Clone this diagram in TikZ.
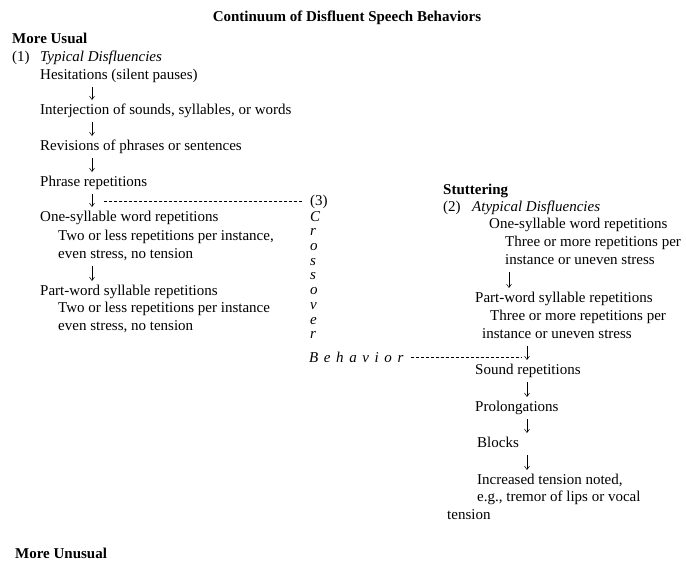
\documentclass[tikz,border=0pt]{standalone}
\usepackage{fontspec}
\setmainfont{Liberation Serif}
\usetikzlibrary{arrows.meta}

\begin{document}
\begin{tikzpicture}[x=1pt,y=-1pt,
  font=\fontsize{15}{18}\selectfont,
  txt/.style={anchor=base west, inner sep=0pt},
  hd/.style={txt, font=\fontsize{15}{18}\selectfont\bfseries},
  it/.style={txt, font=\fontsize{15}{18}\selectfont\itshape},
  dn/.style={-{Straight Barb[length=3.5pt,width=5pt]}, line width=0.5pt,
    shorten <=8pt, shorten >=14pt},
  xo/.style={dash pattern=on 3pt off 2pt, line width=0.5pt}]

\useasboundingbox (0,0) rectangle (686,563);

% columns of the arrows
\coordinate (lcol) at (92,0);
\coordinate (rcolA) at (509,0);
\coordinate (rcolB) at (527,0);

% title
\node[font=\fontsize{15}{18}\selectfont\bfseries, anchor=base, inner sep=0pt]
  (title) at (347,21) {Continuum of Disfluent Speech Behaviors};

% (1) typical disfluencies
\node[hd] (mu) at (12,43) {More Usual};
\node[txt] (n1) at (12,61) {(1)};
\node[it] (typ) at (40,61) {Typical Disfluencies};
\node[txt] (hes) at (40,79) {Hesitations (silent pauses)};
\node[txt] (intj) at (40,114) {Interjection of sounds, syllables, or words};
\node[txt] (rev) at (40,150) {Revisions of phrases or sentences};
\node[txt] (phr) at (40,186) {Phrase repetitions};
\node[txt] (osw) at (40,221) {One-syllable word repetitions};
\node[txt] (osw2) at (58,240) {Two or less repetitions per instance,};
\node[txt] (osw3) at (58,258) {even stress, no tension};
\node[txt] (pws) at (40,295) {Part-word syllable repetitions};
\node[txt] (pws2) at (58,312) {Two or less repetitions per instance};
\node[txt] (pws3) at (58,330) {even stress, no tension};

\draw[dn] (hes.base -| lcol) -- (intj.base -| lcol);
\draw[dn] (intj.base -| lcol) -- (rev.base -| lcol);
\draw[dn] (rev.base -| lcol) -- (phr.base -| lcol);
\draw[dn] (phr.base -| lcol) -- (osw.base -| lcol);
\draw[dn] (osw3.base -| lcol) -- (pws.base -| lcol);

% (3) crossover behavior
\node[txt] (n3) at (310,205) {(3)};
\node[anchor=north west, inner sep=0pt, align=left,
  font=\fontsize{15}{14.7}\selectfont\itshape] (cross) at (310,211)
  {C\\r\\o\\s\\s\\o\\v\\e\\r};
\node[it] (beh) at (309,362) {\spaceskip=5.6pt B e h a v i o r};

% (2) atypical disfluencies
\node[hd] (stut) at (443,194) {Stuttering};
\node[txt] (n2) at (443,211) {(2)};
\node[it] (atyp) at (472,211) {Atypical Disfluencies};
\node[txt] (rosw) at (489,228) {One-syllable word repetitions};
\node[txt] (rosw2) at (505,246) {Three or more repetitions per};
\node[txt] (rosw3) at (505,264) {instance or uneven stress};
\node[txt] (rpws) at (475,302) {Part-word syllable repetitions};
\node[txt] (rpws2) at (490,320) {Three or more repetitions per};
\node[txt] (rpws3) at (482,338) {instance or uneven stress};
\node[txt] (snd) at (475,374) {Sound repetitions};
\node[txt] (prol) at (475,411) {Prolongations};
\node[txt] (blk) at (477,447) {Blocks};
\node[txt] (inc) at (477,484) {Increased tension noted,};
\node[txt] (inc2) at (477,501) {e.g., tremor of lips or vocal};
\node[txt] (inc3) at (447,519) {tension};

\draw[dn] (rosw3.base -| rcolA) -- (rpws.base -| rcolA);
\draw[dn] (rpws3.base -| rcolB) -- (snd.base -| rcolB);
\draw[dn] (snd.base -| rcolB) -- (prol.base -| rcolB);
\draw[dn] (prol.base -| rcolB) -- (blk.base -| rcolB);
\draw[dn] (blk.base -| rcolB) -- (inc.base -| rcolB);

% crossover links
\draw[xo, shorten <=8pt, shorten >=11pt] (n3.west) -- (n3.west -| lcol);
\draw[xo, shorten <=7pt, shorten >=5pt] (beh.east) -- (beh.east -| rcolB);

\node[hd] (mun) at (15,558) {More Unusual};

\end{tikzpicture}
\end{document}
